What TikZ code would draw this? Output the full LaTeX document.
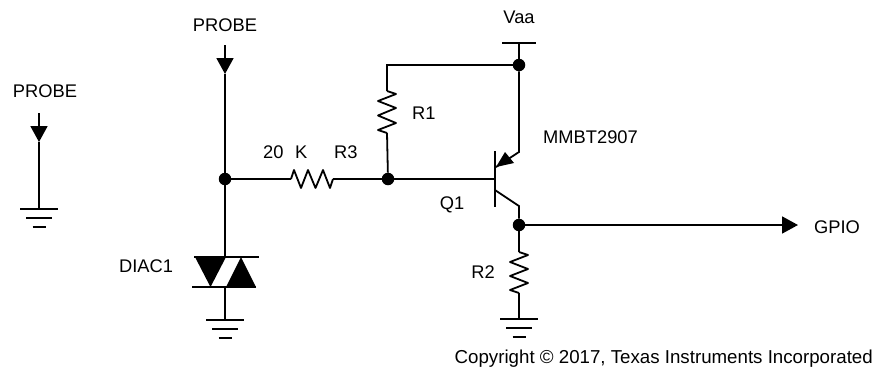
\documentclass[tikz,border=0pt]{standalone}
\usepackage{fontspec}
\setmainfont{Liberation Sans}
\usetikzlibrary{arrows.meta, positioning}

\newcommand{\gnd}[1]{
    \draw[wire] (#1) ++(-19,0) -- ++(38,0);
    \draw[wire] (#1) ++(-13,9) -- ++(26,0);
    \draw[wire] (#1) ++(-6.5,18) -- ++(13,0);
}

\begin{document}
\begin{tikzpicture}[x=1pt,y=-1pt]

    \tikzset
    {
        font={\fontsize{18.3pt}{20pt}\selectfont},
        wire/.style={line width=1.8pt},
        sig/.style={wire,-{Triangle[length=16pt,width=17pt]}},
        dot/.style={circle,fill=black,inner sep=0pt,minimum size=12.5pt},
        lbl/.style={inner sep=0pt}
    }

    \useasboundingbox (0,0) rectangle (875,368);

    % left probe
    \node[lbl] (probeAtxt) at (45,91) {PROBE};
    \coordinate (probeAtop) at (39,113);
    \coordinate (probeAtip) at (39,142);
    \coordinate (gndA) at (39,209);
    \draw[sig] (probeAtop) -- (probeAtip);
    \draw[wire] (probeAtip) -- (gndA);
    \gnd{gndA}

    % main probe and diac
    \node[lbl] (probeBtxt) at (225,25) {PROBE};
    \coordinate (probeBtop) at (225,45);
    \coordinate (probeBtip) at (225,74);
    \node[dot] (jnA) at (225,179) {};
    \coordinate (diacT) at (225,257);
    \coordinate (diacB) at (225,287);
    \coordinate (gndB) at (225,320);
    \draw[sig] (probeBtop) -- (probeBtip);
    \draw[wire] (probeBtip) -- (jnA);
    \draw[wire] (jnA) -- (diacT);
    \draw[wire] (diacB) -- (gndB);
    \gnd{gndB}
    \draw[wire] (diacT) ++(-31,0) -- ++(65,0);
    \draw[wire] (diacB) ++(-33,0) -- ++(64,0);
    \fill (diacT) ++(-30,0) -- ++(31,0) -- ++(-15.5,30) -- cycle;
    \fill (diacB) ++(1,0) -- ++(30,0) -- ++(-15,-30) -- cycle;
    \node[lbl] (diacTxt) at (146,266) {DIAC1};

    % R3
    \node[dot] (jnB) at (388,179) {};
    \coordinate (rThreeA) at (291,179);
    \coordinate (rThreeB) at (333,179);
    \draw[wire] (jnA) -- (rThreeA);
    \draw[wire,line join=round] (rThreeA) -- ++(3,-9) -- ++(7,18) -- ++(7,-18) -- ++(7.5,18) -- ++(7.5,-18) -- ++(7,18) -- (rThreeB);
    \draw[wire] (rThreeB) -- (jnB);
    \node[lbl,anchor=west] (valTxt) at (263,152) {20};
    \node[lbl,anchor=west] (kTxt) at (295,152) {K};
    \node[lbl,anchor=west] (rThreeTxt) at (334,152) {R3};

    % R1 and supply
    \node[dot] (jnC) at (519,65) {};
    \coordinate (vaaPt) at (519,43);
    \coordinate (cornerA) at (387,65);
    \coordinate (rOneA) at (387,91);
    \coordinate (rOneB) at (387,133);
    \draw[wire] (vaaPt) ++(-17,0) -- ++(34,0);
    \draw[wire] (vaaPt) -- (jnC);
    \draw[wire] (jnC) -- (cornerA) -- (rOneA);
    \draw[wire,line join=round] (rOneA) -- ++(9,3) -- ++(-18,7) -- ++(18,7) -- ++(-18,7.5) -- ++(18,7.5) -- ++(-18,7) -- (rOneB);
    \draw[wire] (rOneB) -- (jnB);
    \node[lbl] (vaaTxt) at (519,17) {Vaa};
    \node[lbl,anchor=west] (rOneTxt) at (412,113) {R1};

    % Q1
    \coordinate (baseT) at (495,151);
    \coordinate (baseM) at (495,179);
    \coordinate (baseB) at (495,207);
    \coordinate (emitA) at (519,152);
    \coordinate (emitB) at (496,167);
    \coordinate (collA) at (495,190);
    \coordinate (collB) at (519,206);
    \node[dot] (jnD) at (519,225) {};
    \draw[wire] (baseT) -- (baseB);
    \draw[wire] (jnB) -- (baseM);
    \draw[wire] (jnC) -- (emitA) -- (emitB);
    \fill (emitB) -- (505,152) -- (514,163) -- cycle;
    \draw[wire] (collA) -- (collB) -- (jnD);
    \node[lbl,anchor=west] (typeTxt) at (543,137) {MMBT2907};
    \node[lbl] (qTxt) at (452,205) {Q1};

    % R2 and output
    \coordinate (rTwoA) at (519,252);
    \coordinate (rTwoB) at (519,293);
    \coordinate (gndC) at (519,319);
    \draw[wire] (jnD) -- (rTwoA);
    \draw[wire,line join=round] (rTwoA) -- ++(9,3) -- ++(-18,7) -- ++(18,7) -- ++(-18,7) -- ++(18,7) -- ++(-18,7) -- (rTwoB);
    \draw[wire] (rTwoB) -- (gndC);
    \gnd{gndC}
    \node[lbl] (rTwoTxt) at (483,272) {R2};
    \coordinate (gpioPt) at (798,225);
    \draw[sig] (jnD) -- (gpioPt);
    \node[lbl,anchor=west] (gpioTxt) at (814,227) {GPIO};

    \node[lbl,anchor=east,font={\fontsize{18.7pt}{20pt}\selectfont}] (copyTxt) at (873,359) {Copyright © 2017, Texas Instruments Incorporated};

\end{tikzpicture}
\end{document}
